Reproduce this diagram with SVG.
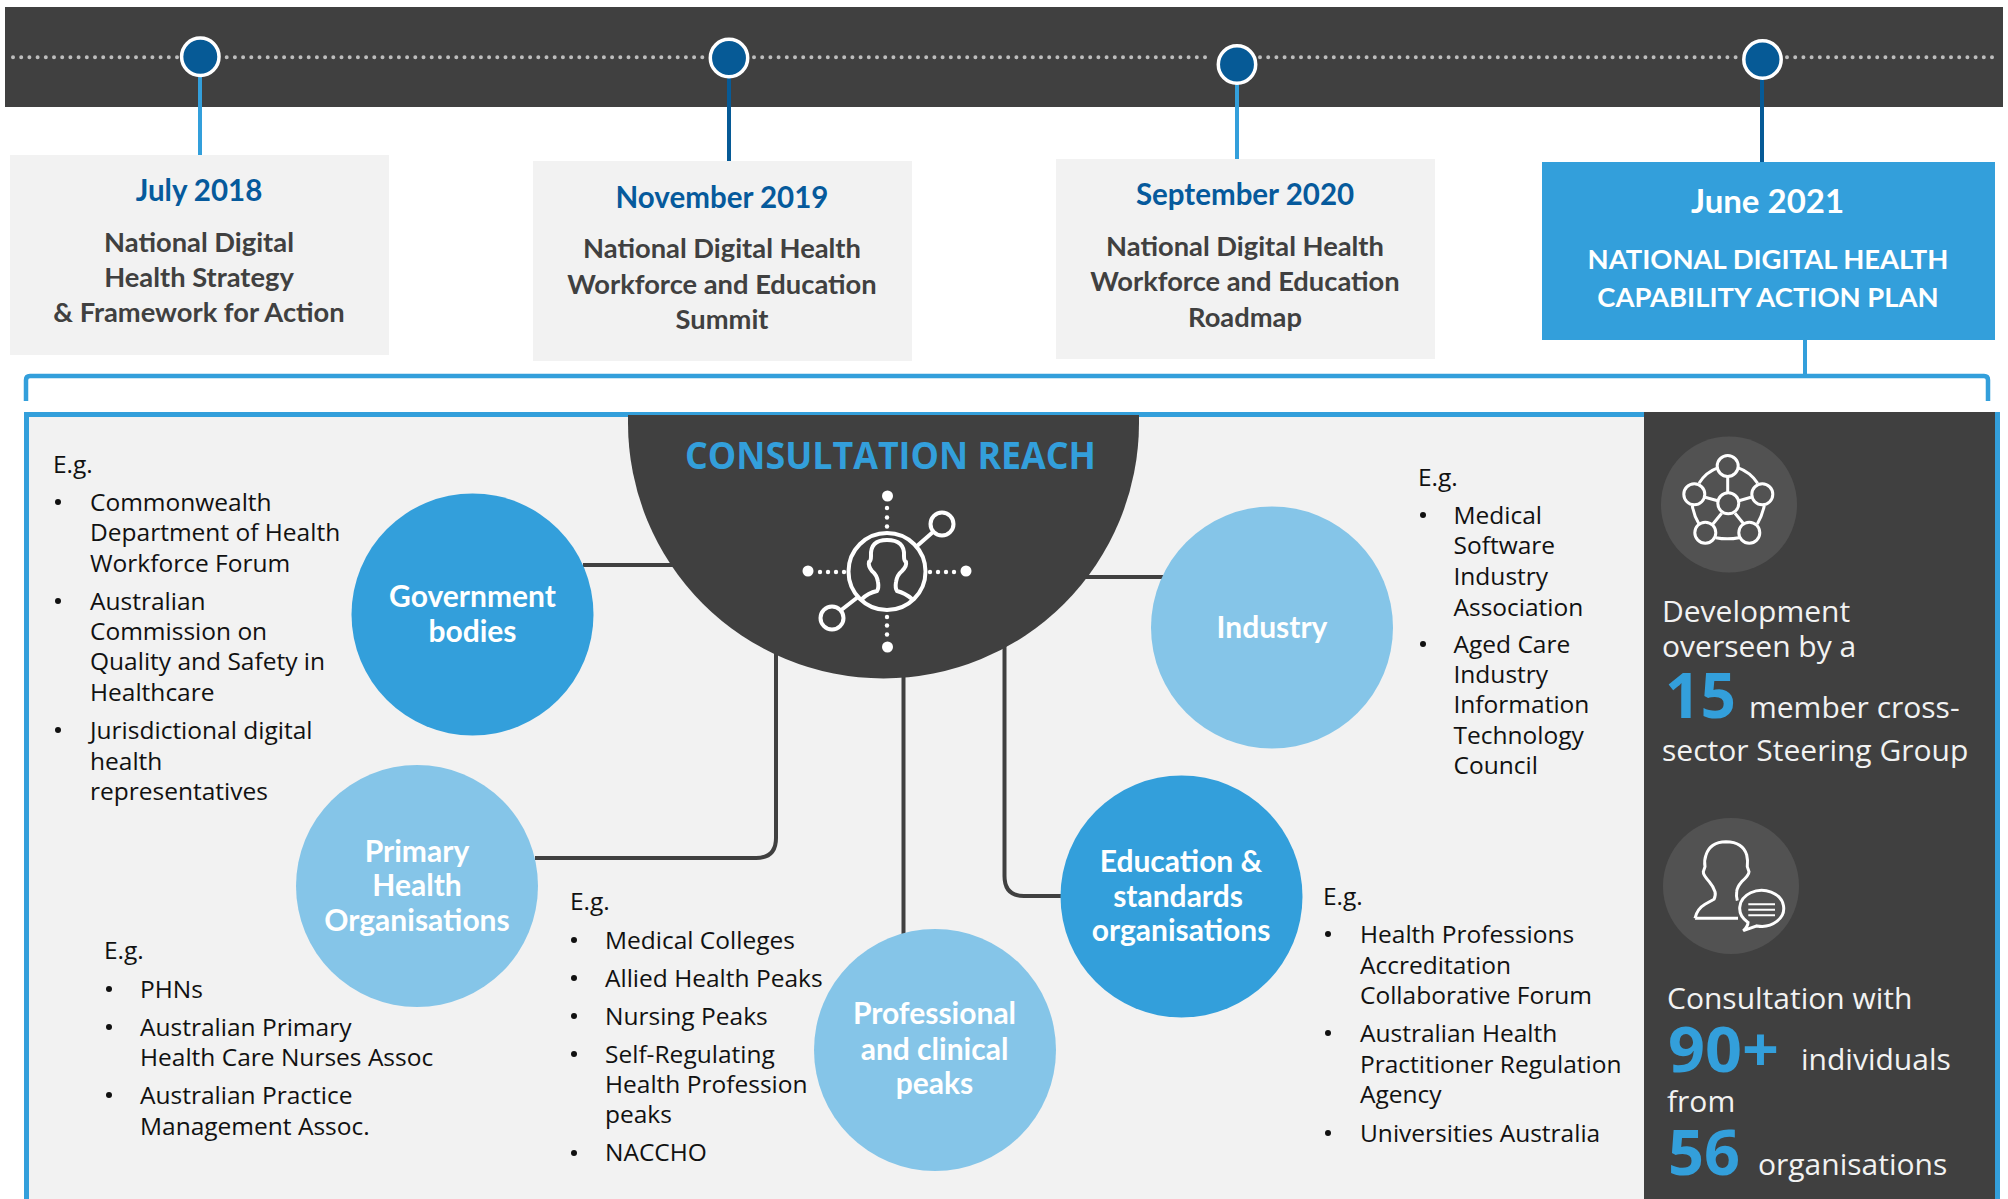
<svg xmlns="http://www.w3.org/2000/svg" width="2008" height="1199" viewBox="0 0 2008 1199">
<style>
.box{fill:#f2f2f2}
.date{font:700 29.5px "Lato","Open Sans",sans-serif;fill:#065a9c;text-anchor:middle}
.desc{font:700 27.3px "Lato","Open Sans",sans-serif;fill:#404040;text-anchor:middle}
.wh{font:700 30px "Lato","Open Sans",sans-serif;fill:#fff;text-anchor:middle}
.caps{font:700 27.4px "Lato","Open Sans",sans-serif;fill:#fff;text-anchor:middle}
.li{font:400 24.5px "Open Sans",sans-serif;fill:#111}
.bu{fill:#111}
.pn{font:400 30px "Open Sans",sans-serif;fill:#f2f2f2}
.big{font:700 62px "Open Sans",sans-serif;fill:#339fdb}
.conn{fill:none;stroke:#404040;stroke-width:4}
.dots{fill:none;stroke:#bdbdbd;stroke-width:4;stroke-linecap:round;stroke-dasharray:0 8.2}
.dk{fill:#339fdb}
.lt{fill:#85c5e8}
.mk{fill:#065a96;stroke:#fff;stroke-width:3.5}
.ic{fill:none;stroke:#fff;stroke-width:4}
.ic2{fill:none;stroke:#fff;stroke-width:3}
</style>
<rect width="2008" height="1199" fill="#fff"/>
<rect id="timeline-bar" x="5" y="7" width="1998" height="100" fill="#404040"/>
<g id="timeline-dots">
<path class="dots" d="M13 57.300H178M226.700 57.300H704M754 57.300H1212M1260 57.300H1738M1787 57.300H2000"/>
</g>
<g id="bracket" fill="none" stroke="#339fdb">
<path stroke-width="4.500" d="M26 401V380Q26 376 30 376H1984Q1988 376 1988 380V401"/>
<path stroke-width="4" d="M1805 340V376"/>
</g>
<g id="timeline-connectors" fill="none" stroke-width="4">
<path stroke="#339fdb" d="M200 70V155"/>
<path stroke="#065a96" d="M729 70V161"/>
<path stroke="#339fdb" d="M1237 76V159"/>
<path stroke="#065a96" d="M1762 72V162"/>
</g>
<g id="milestone-1">
<circle class="mk" cx="200.300" cy="56.700" r="18.700"/>
<rect class="box" x="10" y="155" width="379" height="200"/>
<text class="date" x="199" y="201">July 2018</text>
<text class="desc" x="199" y="252">National Digital</text>
<text class="desc" x="199" y="287">Health Strategy</text>
<text class="desc" x="199" y="322">&amp; Framework for Action</text>
</g>
<g id="milestone-2">
<circle class="mk" cx="729" cy="58" r="18.700"/>
<rect class="box" x="533" y="161" width="379" height="200"/>
<text class="date" x="722" y="208">November 2019</text>
<text class="desc" x="722" y="258">National Digital Health</text>
<text class="desc" x="722" y="294">Workforce and Education</text>
<text class="desc" x="722" y="329">Summit</text>
</g>
<g id="milestone-3">
<circle class="mk" cx="1237" cy="64.500" r="18.700"/>
<rect class="box" x="1056" y="159" width="379" height="200"/>
<text class="date" x="1245" y="205">September 2020</text>
<text class="desc" x="1245" y="256">National Digital Health</text>
<text class="desc" x="1245" y="291">Workforce and Education</text>
<text class="desc" x="1245" y="327">Roadmap</text>
</g>
<g id="milestone-4">
<circle class="mk" cx="1762.500" cy="59.500" r="18.700"/>
<rect class="dk" x="1542" y="162" width="453" height="178"/>
<text class="wh" x="1767.500" y="213" style="font-size:33px">June 2021</text>
<text class="caps" x="1768" y="269">NATIONAL DIGITAL HEALTH</text>
<text class="caps" x="1768" y="307">CAPABILITY ACTION PLAN</text>
</g>
<rect id="panel" x="26.500" y="414.500" width="1971" height="800" fill="#f2f2f2" stroke="#339fdb" stroke-width="5"/>
<g id="connectors">
<path class="conn" d="M583 565H690"/>
<path class="conn" d="M1082 577H1165"/>
<path class="conn" d="M535 858H756Q776 858 776 838V640"/>
<path class="conn" d="M903.500 670V935"/>
<path class="conn" d="M1004.500 640V876Q1004.500 896 1024 896H1070"/>
</g>
<g id="consultation-reach">
<path fill="#404040" d="M628 415H1139V423A255.500 255.500 0 0 1 628 423Z"/>
<text x="685" y="469" textLength="411" lengthAdjust="spacingAndGlyphs" style="font:700 38px 'Open Sans',sans-serif;fill:#339fdb">CONSULTATION REACH</text>
<g fill="#fff">
<circle cx="887.500" cy="496" r="5.500"/><circle cx="887.500" cy="647" r="5.500"/><circle cx="808" cy="571" r="5.500"/><circle cx="966" cy="571" r="5.500"/>
<circle cx="887" cy="508" r="2.200"/><circle cx="887" cy="517.500" r="2.200"/><circle cx="887" cy="526.500" r="2.200"/>
<circle cx="887" cy="617" r="2.200"/><circle cx="887" cy="625.500" r="2.200"/><circle cx="887" cy="634.500" r="2.200"/>
<circle cx="820" cy="572" r="2.200"/><circle cx="828" cy="572" r="2.200"/><circle cx="836" cy="572" r="2.200"/><circle cx="844" cy="572" r="2.200"/>
<circle cx="930" cy="572" r="2.200"/><circle cx="938" cy="572" r="2.200"/><circle cx="946" cy="572" r="2.200"/><circle cx="954" cy="572" r="2.200"/>
</g>
<g class="ic">
<circle cx="887" cy="571.500" r="38.500"/>
<circle cx="942" cy="524" r="11.500"/>
<circle cx="832" cy="618" r="11.500"/>
<path d="M917 546L933 532M840 611L858 597"/>
<path d="M862 599Q868 593 877 591Q879 588 878 582Q877 575 872 571Q868 566 869 562Q871 561 871 556Q870 540 887 540Q905 540 904 556Q904 561 906 562Q907 566 902 571Q897 575 896 582Q895 588 897 591Q905 593 912 599"/>
</g>
</g>
<g id="government-bodies">
<circle class="dk" cx="472.500" cy="614.500" r="121"/>
<text class="wh" x="472.500" y="607">Government</text>
<text class="wh" x="472.500" y="642">bodies</text>
</g>
<g id="primary-health">
<circle class="lt" cx="417" cy="886" r="121"/>
<text class="wh" x="417" y="862">Primary</text>
<text class="wh" x="417" y="896">Health</text>
<text class="wh" x="417" y="931">Organisations</text>
</g>
<g id="professional-clinical">
<circle class="lt" cx="935" cy="1050" r="121"/>
<text class="wh" x="934.500" y="1024">Professional</text>
<text class="wh" x="934.500" y="1060">and clinical</text>
<text class="wh" x="934.500" y="1094">peaks</text>
</g>
<g id="education-standards">
<circle class="dk" cx="1181.500" cy="896.500" r="121"/>
<text class="wh" x="1181" y="872">Education &amp;</text>
<text class="wh" x="1178" y="907">standards</text>
<text class="wh" x="1181" y="941">organisations</text>
</g>
<g id="industry">
<circle class="lt" cx="1272" cy="627.500" r="121"/>
<text class="wh" x="1272" y="638">Industry</text>
</g>
<g id="list-government" transform="translate(0 1)">
<text class="li" x="53" y="472">E.g.</text>
<circle class="bu" cx="58" cy="501" r="3"/><circle class="bu" cx="58" cy="600" r="3"/><circle class="bu" cx="58" cy="729" r="3"/>
<text class="li" x="90" y="510">Commonwealth</text>
<text class="li" x="90" y="540">Department of Health</text>
<text class="li" x="90" y="571">Workforce Forum</text>
<text class="li" x="90" y="609">Australian</text>
<text class="li" x="90" y="639">Commission on</text>
<text class="li" x="90" y="669">Quality and Safety in</text>
<text class="li" x="90" y="700">Healthcare</text>
<text class="li" x="90" y="738">Jurisdictional digital</text>
<text class="li" x="90" y="769">health</text>
<text class="li" x="90" y="799">representatives</text>
</g>
<g id="list-primary" transform="translate(0 1)">
<text class="li" x="104" y="958">E.g.</text>
<circle class="bu" cx="109" cy="988" r="3"/><circle class="bu" cx="109" cy="1026" r="3"/><circle class="bu" cx="109" cy="1094" r="3"/>
<text class="li" x="140" y="997">PHNs</text>
<text class="li" x="140" y="1035">Australian Primary</text>
<text class="li" x="140" y="1065">Health Care Nurses Assoc</text>
<text class="li" x="140" y="1103">Australian Practice</text>
<text class="li" x="140" y="1134">Management Assoc.</text>
</g>
<g id="list-professional" transform="translate(0 1)">
<text class="li" x="570" y="909">E.g.</text>
<circle class="bu" cx="574" cy="939" r="3"/><circle class="bu" cx="574" cy="977" r="3"/><circle class="bu" cx="574" cy="1015" r="3"/><circle class="bu" cx="574" cy="1053" r="3"/><circle class="bu" cx="574" cy="1152" r="3"/>
<text class="li" x="605" y="948">Medical Colleges</text>
<text class="li" x="605" y="986">Allied Health Peaks</text>
<text class="li" x="605" y="1024">Nursing Peaks</text>
<text class="li" x="605" y="1062">Self-Regulating</text>
<text class="li" x="605" y="1092">Health Profession</text>
<text class="li" x="605" y="1122">peaks</text>
<text class="li" x="605" y="1160">NACCHO</text>
</g>
<g id="list-industry" transform="translate(0 1)">
<text class="li" x="1418" y="485">E.g.</text>
<circle class="bu" cx="1423" cy="514" r="3"/><circle class="bu" cx="1423" cy="643" r="3"/>
<text class="li" x="1453.500" y="523">Medical</text>
<text class="li" x="1453.500" y="553">Software</text>
<text class="li" x="1453.500" y="584">Industry</text>
<text class="li" x="1453.500" y="615">Association</text>
<text class="li" x="1453.500" y="652">Aged Care</text>
<text class="li" x="1453.500" y="682">Industry</text>
<text class="li" x="1453.500" y="712">Information</text>
<text class="li" x="1453.500" y="743">Technology</text>
<text class="li" x="1453.500" y="773">Council</text>
</g>
<g id="list-education" transform="translate(0 1)">
<text class="li" x="1323" y="904">E.g.</text>
<circle class="bu" cx="1328" cy="933" r="3"/><circle class="bu" cx="1328" cy="1032" r="3"/><circle class="bu" cx="1328" cy="1132" r="3"/>
<text class="li" x="1360" y="942">Health Professions</text>
<text class="li" x="1360" y="973">Accreditation</text>
<text class="li" x="1360" y="1003">Collaborative Forum</text>
<text class="li" x="1360" y="1041">Australian Health</text>
<text class="li" x="1360" y="1072">Practitioner Regulation</text>
<text class="li" x="1360" y="1102">Agency</text>
<text class="li" x="1360" y="1141">Universities Australia</text>
</g>
<g id="side-panel">
<rect x="1644" y="412" width="351" height="787" fill="#404040"/>
<circle cx="1729" cy="504.500" r="68" fill="#525252"/>
<circle cx="1731" cy="886" r="68" fill="#525252"/>
<g class="ic2">
<circle cx="1727.700" cy="466" r="10.500"/><circle cx="1694.300" cy="494.300" r="10.500"/><circle cx="1762.300" cy="494.300" r="10.500"/><circle cx="1728.300" cy="503.300" r="10.500"/><circle cx="1705.300" cy="532.700" r="10.500"/><circle cx="1749.300" cy="532.700" r="10.500"/>
<path d="M1727.700 476.700V492.700M1705 497.300L1717.700 500.700M1751 497.300L1739 500.700M1721.700 513.300L1712.700 524.300M1735 513.300L1744 524.300M1718.300 467.700Q1706 472 1699 483.300M1737.700 467.700Q1750 472 1757.700 483.300M1692.300 505.700Q1694 516 1699 524M1764.300 505.700Q1762 516 1757.300 524M1715.700 537.700Q1727.500 540 1739 537.700"/>
<path d="M1695 918.300Q1697 909 1705 904.300L1714 899.300Q1716 895 1715 891.700Q1713 886 1709.300 881.700Q1703 875 1703.300 871.700L1705 866.700Q1704 860 1706 855Q1710 842 1726 841.700Q1743 842 1746.700 855Q1748 860 1747.300 866.700L1749 871.700Q1749 875 1741.700 881.700Q1737 887 1736.700 891.700Q1736 896 1737.300 900.700M1695 918.300H1738"/>
<path d="M1748 922.400A22 18 0 1 1 1757 925.900L1743.300 930.700Q1748 926 1748 922.400Z"/>
<path stroke-width="2" d="M1748.300 904.300H1775M1748.300 909.700H1775M1748.300 915.300H1775"/>
</g>
<text class="pn" x="1662" y="622">Development</text>
<text class="pn" x="1662" y="657">overseen by a</text>
<text class="big" x="1665" y="718">15</text>
<text class="pn" x="1749" y="718">member cross-</text>
<text class="pn" x="1662" y="761">sector Steering Group</text>
<text class="pn" x="1667" y="1009">Consultation with</text>
<text class="big" x="1668" y="1072" textLength="111" lengthAdjust="spacingAndGlyphs">90+</text>
<text class="pn" x="1801" y="1070">individuals</text>
<text class="pn" x="1667" y="1112">from</text>
<text class="big" x="1668" y="1175" style="font-size:63px">56</text>
<text class="pn" x="1758" y="1175">organisations</text>
</g>
</svg>
